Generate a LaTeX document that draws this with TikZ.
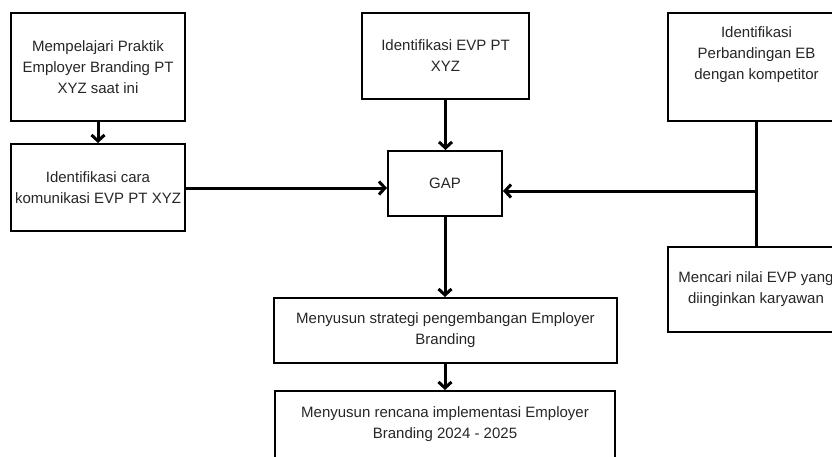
\documentclass[tikz,border=0pt]{standalone}
\usepackage{fontspec}
\setmainfont{Liberation Sans}
\usetikzlibrary{arrows.meta}
\begin{document}
\begin{tikzpicture}[x=1pt,y=-1pt,
  box/.style={draw=black, line width=2pt, fill=white, align=center, inner sep=2pt,
    font=\fontsize{15pt}{21pt}\selectfont, text=black!85},
  conn/.style={line width=3pt, -{Straight Barb[length=6pt,width=13pt]}},
  plain/.style={line width=3pt}]
\useasboundingbox (0,0) rectangle (832,456);
\clip (0,0) rectangle (832,456);
\node[box, minimum width=174pt, minimum height=108pt] (prak) at (98,67)
  {Mempelajari Praktik\\Employer Branding PT\\XYZ saat ini};
\node[box, minimum width=174pt, minimum height=87pt] (kom) at (98,187.5)
  {Identifikasi cara\\komunikasi EVP PT XYZ};
\node[box, minimum width=167pt, minimum height=86pt] (evp) at (445.5,56)
  {Identifikasi EVP PT\\XYZ};
\node[box, minimum width=114pt, minimum height=65pt] (gap) at (445,183.5) {GAP};
\node[box, minimum width=177pt, minimum height=108pt] (komp) at (756.5,67)
  {Identifikasi\\Perbandingan EB\\dengan kompetitor\\\strut};
\node[box, minimum width=176pt, minimum height=85pt] (cari) at (756,289.5)
  {Mencari nilai EVP yang\\diinginkan karyawan};
\node[box, minimum width=343pt, minimum height=65pt] (strat) at (445.5,330.5)
  {Menyusun strategi pengembangan Employer\\Branding};
\node[box, minimum width=340pt, minimum height=90pt] (renc) at (445,436)
  {Menyusun rencana implementasi Employer\\Branding 2024 - 2025\\\strut};
\coordinate (j) at (komp.south |- 0,191);
\draw[conn] (prak.south) -- (kom.north);
\draw[conn] (kom.east |- 0,188) -- (gap.west |- 0,188);
\draw[conn] (evp.south) -- (gap.north -| evp.south);
\draw[plain] (komp.south) -- (cari.north -| komp.south);
\draw[conn] (j) -- (gap.east |- j);
\draw[conn] (gap.south) -- (strat.north -| gap.south);
\draw[conn] (strat.south -| gap.south) -- (renc.north -| gap.south);
\end{tikzpicture}
\end{document}
